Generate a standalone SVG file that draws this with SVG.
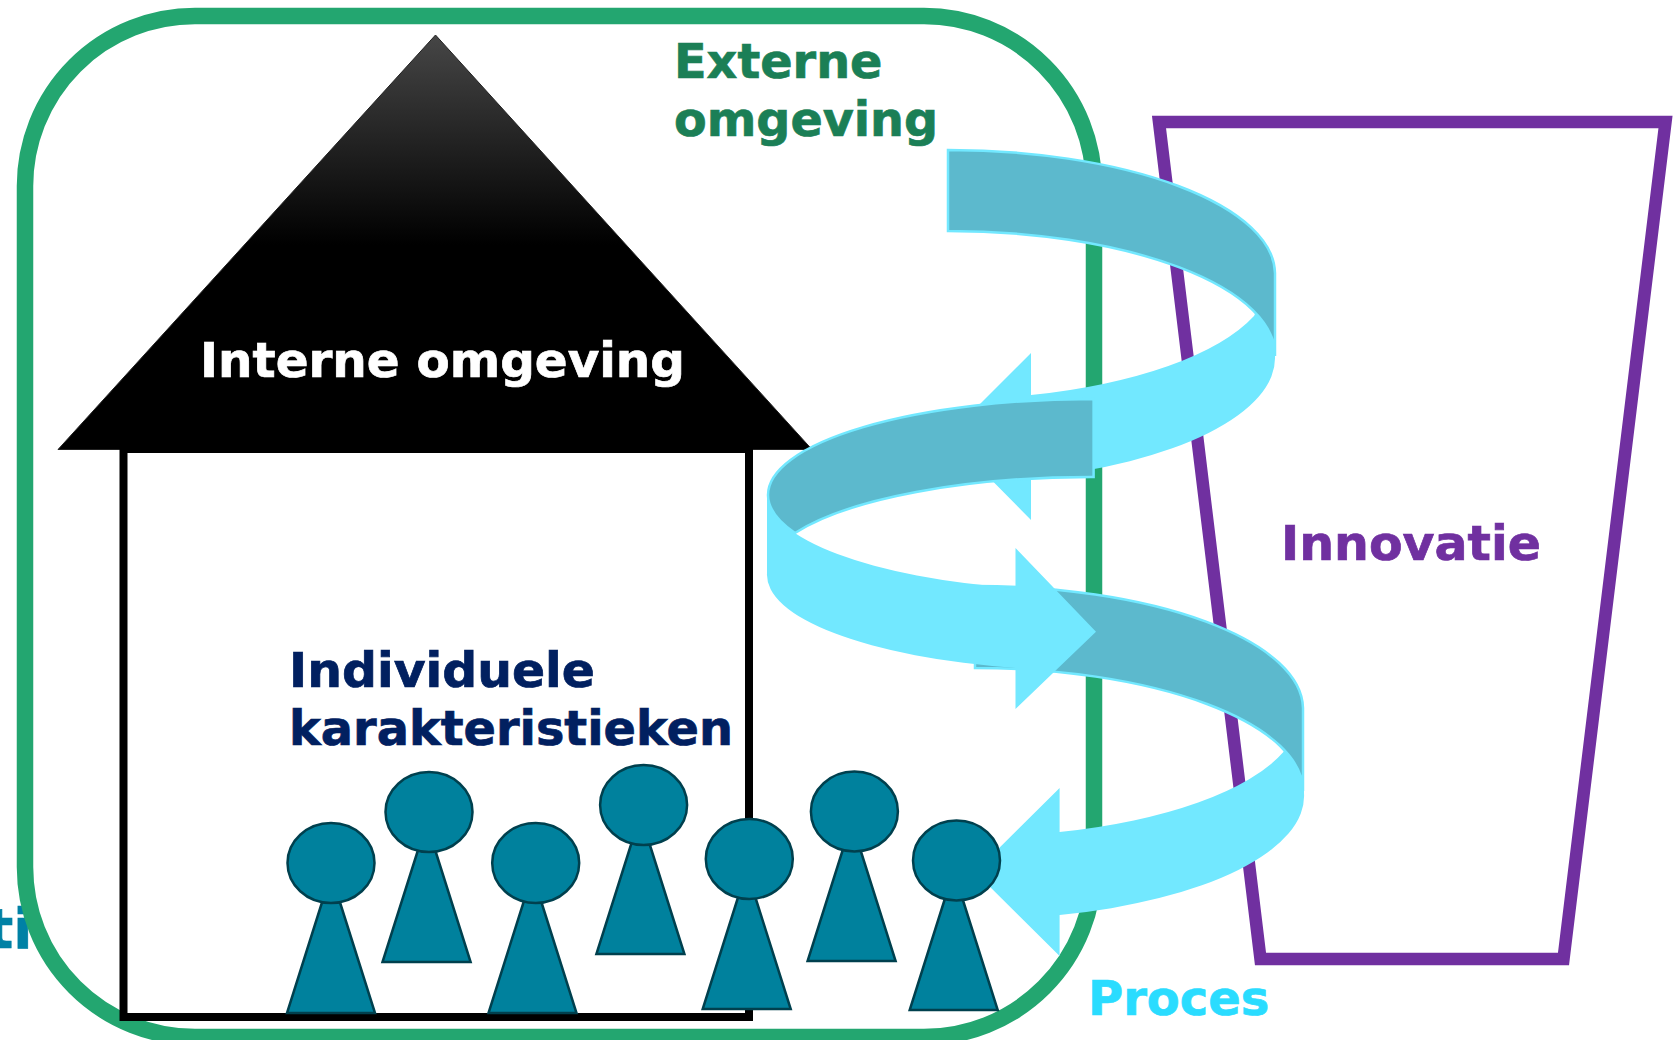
<svg xmlns="http://www.w3.org/2000/svg" width="1675" height="1040" viewBox="0 0 1675 1040">
<style>
text{font-family:"DejaVu Sans","Liberation Sans",sans-serif;font-weight:bold;font-size:48px;stroke-width:.7px}
.lt{fill:#72e8ff;stroke:none}
.dk{fill:#5cb9cd;stroke:#72e8ff;stroke-width:2.5}
.head,.body{fill:#00819d;stroke:#00404e;stroke-width:2.5}
</style>
<defs>
<linearGradient id="roofGrad" gradientUnits="userSpaceOnUse" x1="0" y1="35" x2="0" y2="245">
<stop offset="0" stop-color="#464646"/><stop offset="1" stop-color="#000"/>
</linearGradient>
</defs>
<rect width="1675" height="1040" fill="#fff"/>
<g id="proces-label-left"><text x="-13.5" y="948" fill="#0081a5" stroke="#0081a5" style="font-size:56px">ti</text></g>
<g id="externe-omgeving">
<rect x="25" y="16" width="1069" height="1021" rx="170" ry="170" fill="none" stroke="#23a670" stroke-width="16.5"/>
<text x="674" y="78" fill="#1b7f56" stroke="#1b7f56" textLength="208.5" lengthAdjust="spacingAndGlyphs">Externe</text>
<text x="674" y="136" fill="#1b7f56" stroke="#1b7f56" textLength="264" lengthAdjust="spacingAndGlyphs">omgeving</text>
</g>
<g id="innovatie">
<polygon points="1159,122 1665.5,122 1563.5,959 1260.5,959" fill="none" stroke="#7030a0" stroke-width="12.5"/>
<text x="1281" y="560" fill="#7030a0" stroke="#7030a0" textLength="260" lengthAdjust="spacingAndGlyphs">Innovatie</text>
</g>
<g id="interne-omgeving">
<polygon points="435.5,35 58,449.5 812,449.5" fill="url(#roofGrad)" stroke="#222" stroke-width="1"/>
<rect x="123.5" y="449" width="625.5" height="568" fill="#fff" stroke="#000" stroke-width="8"/>
<text x="200" y="377" fill="#fff" stroke="#fff" textLength="485" lengthAdjust="spacingAndGlyphs">Interne omgeving</text>
<text x="289" y="687" fill="#012060" stroke="#012060" textLength="306" lengthAdjust="spacingAndGlyphs">Individuele</text>
<text x="289" y="745" fill="#012060" stroke="#012060" textLength="444" lengthAdjust="spacingAndGlyphs">karakteristieken</text>
</g>
<g id="connectors">
<g id="spiral-3">
<path class="lt" d="M1283.4,752A328,123 0 0 1 1059.6,832L1059.6,788L975,872L1059.6,956L1059.6,915A328,123 0 0 0 1304,793L1304,708Z"/>
<path class="dk" d="M975,586A328,123 0 0 1 1303,708L1303,791A328,123 0 0 0 975,668Z"/>
</g>
<g id="spiral-1">
<path class="lt" d="M1254,316A327,124 0 0 1 1031,395L1031,353L948,436L1031,520L1031,478A327,124 0 0 0 1275,356L1275,273Z"/>
<path class="dk" d="M948,150A327,124 0 0 1 1275,273L1275,356A327,124 0 0 0 948,231Z"/>
</g>
<g id="spiral-2">
<path class="lt" d="M767,495L768,495A325.6,96 0 0 0 1015.5,588L1015.5,548L1096,631.7L1015.5,709L1015.5,668A325.6,96 0 0 1 767,573Z"/>
<path class="dk" d="M1093.6,399A325.6,96 0 0 0 768,495A325.6,96 0 0 0 795,533A325.6,96 0 0 1 1093.6,477Z"/>
</g>
</g>
<text id="proces" x="1088" y="1015" fill="#2adcff" stroke="#2adcff">Proces</text>
<g id="person-1"><polygon class="body" points="331,874 287,1013 375,1013"/><ellipse class="head" cx="331" cy="863" rx="43.5" ry="40"/></g>
<g id="person-2"><polygon class="body" points="426.6,823 382.5,962 470.6,962"/><ellipse class="head" cx="429" cy="812" rx="43.5" ry="40"/></g>
<g id="person-3"><polygon class="body" points="532.5,874 488.5,1013 576.5,1013"/><ellipse class="head" cx="535.7" cy="863" rx="43.5" ry="40"/></g>
<g id="person-4"><polygon class="body" points="640.4,815 596.4,954 684.4,954"/><ellipse class="head" cx="643.6" cy="805" rx="43.5" ry="40"/></g>
<g id="person-5"><polygon class="body" points="746.7,870 702.7,1009 790.7,1009"/><ellipse class="head" cx="749.3" cy="859" rx="43.5" ry="40"/></g>
<g id="person-6"><polygon class="body" points="851.6,822 807.6,961 895.6,961"/><ellipse class="head" cx="854.4" cy="811.5" rx="43.5" ry="40"/></g>
<g id="person-7"><polygon class="body" points="953.7,871 909.7,1010 997.7,1010"/><ellipse class="head" cx="956.5" cy="860.5" rx="43.5" ry="40"/></g>
</svg>
